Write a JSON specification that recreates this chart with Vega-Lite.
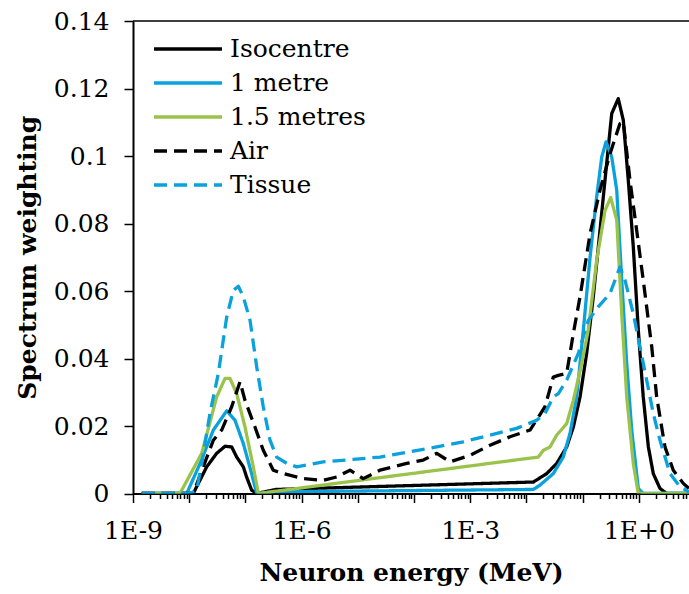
{
  "$schema": "https://vega.github.io/schema/vega-lite/v6.json",
  "width": 556,
  "height": 472.5,
  "autosize": {"type": "none"},
  "padding": {"left": 133, "top": 21, "right": 0, "bottom": 100.5},
  "background": "white",
  "config": {
    "view": {"stroke": null},
    "font": "DejaVu Serif",
    "axis": {"labelFont": "DejaVu Serif", "titleFont": "DejaVu Serif", "labelFontSize": 25, "titleFontSize": 25, "titleFontWeight": "bold", "labelColor": "black", "titleColor": "black", "domainColor": "black", "tickColor": "black", "grid": false},
    "axisY": {"domainWidth": 2, "tickWidth": 1.5, "tickSize": 9, "labelPadding": 15, "titlePadding": 13},
    "axisX": {"domainWidth": 2, "tickWidth": 1.5, "labelPadding": 16, "titlePadding": 17, "labelFlush": false, "labelOverlap": false, "labelBound": false},
    "legend": {"labelFont": "DejaVu Serif", "labelFontSize": 25, "labelColor": "black"}
  },
  "layer": [
    {
      "data": {"values": [{}]},
      "mark": {"type": "rule", "color": "black", "strokeWidth": 1.5},
      "encoding": {"y": {"datum": 0.14, "type": "quantitative", "title": "Spectrum weighting"}}
    },
    {
      "data": {"values": [
        {"s": "Isocentre", "E": 1.43e-9, "w": 0},
        {"s": "Isocentre", "E": 1.18e-8, "w": 0},
        {"s": "Isocentre", "E": 2.05e-8, "w": 0.0079},
        {"s": "Isocentre", "E": 3.08e-8, "w": 0.0119},
        {"s": "Isocentre", "E": 4.34e-8, "w": 0.014},
        {"s": "Isocentre", "E": 5.7e-8, "w": 0.0138},
        {"s": "Isocentre", "E": 7.0e-8, "w": 0.0108},
        {"s": "Isocentre", "E": 9.18e-8, "w": 0.0079},
        {"s": "Isocentre", "E": 1.05e-7, "w": 0.0049},
        {"s": "Isocentre", "E": 1.29e-7, "w": 0.001},
        {"s": "Isocentre", "E": 1.59e-7, "w": 0},
        {"s": "Isocentre", "E": 3.5e-7, "w": 0.0012},
        {"s": "Isocentre", "E": 1.33e-2, "w": 0.0034},
        {"s": "Isocentre", "E": 2.3e-2, "w": 0.0059},
        {"s": "Isocentre", "E": 3.46e-2, "w": 0.0089},
        {"s": "Isocentre", "E": 5.21e-2, "w": 0.0138},
        {"s": "Isocentre", "E": 6.84e-2, "w": 0.0197},
        {"s": "Isocentre", "E": 9.0e-2, "w": 0.0286},
        {"s": "Isocentre", "E": 0.118, "w": 0.0415},
        {"s": "Isocentre", "E": 0.155, "w": 0.0583},
        {"s": "Isocentre", "E": 0.204, "w": 0.078},
        {"s": "Isocentre", "E": 0.268, "w": 0.0978},
        {"s": "Isocentre", "E": 0.33, "w": 0.1126},
        {"s": "Isocentre", "E": 0.431, "w": 0.117},
        {"s": "Isocentre", "E": 0.53, "w": 0.1106},
        {"s": "Isocentre", "E": 0.65, "w": 0.0928},
        {"s": "Isocentre", "E": 0.798, "w": 0.0731},
        {"s": "Isocentre", "E": 0.98, "w": 0.0484},
        {"s": "Isocentre", "E": 1.2, "w": 0.0286},
        {"s": "Isocentre", "E": 1.48, "w": 0.0138},
        {"s": "Isocentre", "E": 1.81, "w": 0.0059},
        {"s": "Isocentre", "E": 2.38, "w": 0.0015},
        {"s": "Isocentre", "E": 3.13, "w": 0},
        {"s": "Isocentre", "E": 7.8, "w": 0},

        {"s": "1 metre", "E": 1.43e-9, "w": 0},
        {"s": "1 metre", "E": 9.04e-9, "w": 0},
        {"s": "1 metre", "E": 1.56e-8, "w": 0.0089},
        {"s": "1 metre", "E": 2.69e-8, "w": 0.0188},
        {"s": "1 metre", "E": 4.65e-8, "w": 0.0245},
        {"s": "1 metre", "E": 6.53e-8, "w": 0.0217},
        {"s": "1 metre", "E": 9.18e-8, "w": 0.0148},
        {"s": "1 metre", "E": 1.29e-7, "w": 0.0059},
        {"s": "1 metre", "E": 1.59e-7, "w": 0},
        {"s": "1 metre", "E": 3.5e-7, "w": 0.0005},
        {"s": "1 metre", "E": 1.33e-2, "w": 0.0012},
        {"s": "1 metre", "E": 1.75e-2, "w": 0.0025},
        {"s": "1 metre", "E": 3.01e-2, "w": 0.0059},
        {"s": "1 metre", "E": 4.53e-2, "w": 0.0108},
        {"s": "1 metre", "E": 5.97e-2, "w": 0.0178},
        {"s": "1 metre", "E": 7.85e-2, "w": 0.0286},
        {"s": "1 metre", "E": 0.103, "w": 0.0484},
        {"s": "1 metre", "E": 0.136, "w": 0.0701},
        {"s": "1 metre", "E": 0.178, "w": 0.0879},
        {"s": "1 metre", "E": 0.219, "w": 0.0997},
        {"s": "1 metre", "E": 0.261, "w": 0.1042},
        {"s": "1 metre", "E": 0.33, "w": 0.0997},
        {"s": "1 metre", "E": 0.405, "w": 0.0899},
        {"s": "1 metre", "E": 0.497, "w": 0.0632},
        {"s": "1 metre", "E": 0.61, "w": 0.0385},
        {"s": "1 metre", "E": 0.748, "w": 0.0188},
        {"s": "1 metre", "E": 0.98, "w": 0.0015},
        {"s": "1 metre", "E": 1.2, "w": 0},
        {"s": "1 metre", "E": 7.8, "w": 0},

        {"s": "1.5 metres", "E": 1.43e-9, "w": 0},
        {"s": "1.5 metres", "E": 6.85e-9, "w": 0},
        {"s": "1.5 metres", "E": 1.67e-8, "w": 0.0119},
        {"s": "1.5 metres", "E": 3.08e-8, "w": 0.0286},
        {"s": "1.5 metres", "E": 4.34e-8, "w": 0.0341},
        {"s": "1.5 metres", "E": 5.32e-8, "w": 0.0341},
        {"s": "1.5 metres", "E": 7.0e-8, "w": 0.0296},
        {"s": "1.5 metres", "E": 9.84e-8, "w": 0.0197},
        {"s": "1.5 metres", "E": 1.38e-7, "w": 0.0079},
        {"s": "1.5 metres", "E": 1.70e-7, "w": 0},
        {"s": "1.5 metres", "E": 1.63e-2, "w": 0.0108},
        {"s": "1.5 metres", "E": 2.0e-2, "w": 0.0128},
        {"s": "1.5 metres", "E": 2.63e-2, "w": 0.0138},
        {"s": "1.5 metres", "E": 3.46e-2, "w": 0.0173},
        {"s": "1.5 metres", "E": 5.21e-2, "w": 0.0207},
        {"s": "1.5 metres", "E": 6.84e-2, "w": 0.0276},
        {"s": "1.5 metres", "E": 9.64e-2, "w": 0.0385},
        {"s": "1.5 metres", "E": 0.126, "w": 0.0484},
        {"s": "1.5 metres", "E": 0.178, "w": 0.0691},
        {"s": "1.5 metres", "E": 0.251, "w": 0.0839},
        {"s": "1.5 metres", "E": 0.316, "w": 0.0877},
        {"s": "1.5 metres", "E": 0.405, "w": 0.081},
        {"s": "1.5 metres", "E": 0.497, "w": 0.0533},
        {"s": "1.5 metres", "E": 0.61, "w": 0.0286},
        {"s": "1.5 metres", "E": 0.798, "w": 0.0089},
        {"s": "1.5 metres", "E": 0.98, "w": 0},
        {"s": "1.5 metres", "E": 7.8, "w": 0},

        {"s": "Air", "E": 1.43e-9, "w": 0},
        {"s": "Air", "E": 1.18e-8, "w": 0},
        {"s": "Air", "E": 1.45e-8, "w": 0.004},
        {"s": "Air", "E": 2.69e-8, "w": 0.0158},
        {"s": "Air", "E": 3.78e-8, "w": 0.0188},
        {"s": "Air", "E": 5.7e-8, "w": 0.0257},
        {"s": "Air", "E": 8.02e-8, "w": 0.0331},
        {"s": "Air", "E": 9.84e-8, "w": 0.0276},
        {"s": "Air", "E": 1.48e-7, "w": 0.0197},
        {"s": "Air", "E": 2.08e-7, "w": 0.0128},
        {"s": "Air", "E": 3.13e-7, "w": 0.0069},
        {"s": "Air", "E": 4.72e-7, "w": 0.0059},
        {"s": "Air", "E": 1.07e-6, "w": 0.0044},
        {"s": "Air", "E": 2.43e-6, "w": 0.0039},
        {"s": "Air", "E": 4.22e-6, "w": 0.0049},
        {"s": "Air", "E": 7.26e-6, "w": 0.0069},
        {"s": "Air", "E": 1.25e-5, "w": 0.0044},
        {"s": "Air", "E": 2.48e-5, "w": 0.0069},
        {"s": "Air", "E": 7.41e-5, "w": 0.0089},
        {"s": "Air", "E": 1.46e-4, "w": 0.0099},
        {"s": "Air", "E": 2.54e-4, "w": 0.0119},
        {"s": "Air", "E": 4.38e-4, "w": 0.0094},
        {"s": "Air", "E": 9.9e-4, "w": 0.0113},
        {"s": "Air", "E": 2.25e-3, "w": 0.0143},
        {"s": "Air", "E": 5.1e-3, "w": 0.0168},
        {"s": "Air", "E": 1.16e-2, "w": 0.0188},
        {"s": "Air", "E": 2.14e-2, "w": 0.0257},
        {"s": "Air", "E": 3.01e-2, "w": 0.0345},
        {"s": "Air", "E": 3.7e-2, "w": 0.035},
        {"s": "Air", "E": 5.21e-2, "w": 0.0356},
        {"s": "Air", "E": 6.84e-2, "w": 0.0474},
        {"s": "Air", "E": 9.0e-2, "w": 0.0583},
        {"s": "Air", "E": 0.136, "w": 0.077},
        {"s": "Air", "E": 0.204, "w": 0.0899},
        {"s": "Air", "E": 0.308, "w": 0.1007},
        {"s": "Air", "E": 0.462, "w": 0.1096},
        {"s": "Air", "E": 0.53, "w": 0.1101},
        {"s": "Air", "E": 0.697, "w": 0.0928},
        {"s": "Air", "E": 0.916, "w": 0.078},
        {"s": "Air", "E": 1.2, "w": 0.0632},
        {"s": "Air", "E": 1.7, "w": 0.0434},
        {"s": "Air", "E": 2.08, "w": 0.0286},
        {"s": "Air", "E": 2.92, "w": 0.0138},
        {"s": "Air", "E": 4.11, "w": 0.0069},
        {"s": "Air", "E": 6.19, "w": 0.003},
        {"s": "Air", "E": 7.8, "w": 0.0015},

        {"s": "Tissue", "E": 1.43e-9, "w": 0},
        {"s": "Tissue", "E": 1.03e-8, "w": 0},
        {"s": "Tissue", "E": 1.36e-8, "w": 0.001},
        {"s": "Tissue", "E": 1.67e-8, "w": 0.0089},
        {"s": "Tissue", "E": 2.34e-8, "w": 0.0237},
        {"s": "Tissue", "E": 3.3e-8, "w": 0.0356},
        {"s": "Tissue", "E": 4.65e-8, "w": 0.0523},
        {"s": "Tissue", "E": 6.1e-8, "w": 0.0602},
        {"s": "Tissue", "E": 7.5e-8, "w": 0.0614},
        {"s": "Tissue", "E": 9.18e-8, "w": 0.0583},
        {"s": "Tissue", "E": 1.21e-7, "w": 0.0513},
        {"s": "Tissue", "E": 1.59e-7, "w": 0.0375},
        {"s": "Tissue", "E": 2.08e-7, "w": 0.0257},
        {"s": "Tissue", "E": 2.74e-7, "w": 0.0158},
        {"s": "Tissue", "E": 3.6e-7, "w": 0.0108},
        {"s": "Tissue", "E": 5.5e-7, "w": 0.0089},
        {"s": "Tissue", "E": 8.2e-7, "w": 0.0079},
        {"s": "Tissue", "E": 2.43e-6, "w": 0.0094},
        {"s": "Tissue", "E": 8.3e-6, "w": 0.0101},
        {"s": "Tissue", "E": 2.48e-5, "w": 0.0108},
        {"s": "Tissue", "E": 7.9e-5, "w": 0.0123},
        {"s": "Tissue", "E": 2.54e-4, "w": 0.0138},
        {"s": "Tissue", "E": 7.5e-4, "w": 0.0153},
        {"s": "Tissue", "E": 2.25e-3, "w": 0.0173},
        {"s": "Tissue", "E": 6.7e-3, "w": 0.0193},
        {"s": "Tissue", "E": 1.52e-2, "w": 0.0217},
        {"s": "Tissue", "E": 2.14e-2, "w": 0.0237},
        {"s": "Tissue", "E": 3.01e-2, "w": 0.0286},
        {"s": "Tissue", "E": 3.7e-2, "w": 0.0296},
        {"s": "Tissue", "E": 5.21e-2, "w": 0.0336},
        {"s": "Tissue", "E": 8.4e-2, "w": 0.0415},
        {"s": "Tissue", "E": 0.126, "w": 0.0513},
        {"s": "Tissue", "E": 0.19, "w": 0.0553},
        {"s": "Tissue", "E": 0.308, "w": 0.0593},
        {"s": "Tissue", "E": 0.462, "w": 0.0671},
        {"s": "Tissue", "E": 0.568, "w": 0.0632},
        {"s": "Tissue", "E": 0.798, "w": 0.0533},
        {"s": "Tissue", "E": 1.05, "w": 0.0434},
        {"s": "Tissue", "E": 1.38, "w": 0.0336},
        {"s": "Tissue", "E": 1.81, "w": 0.0237},
        {"s": "Tissue", "E": 2.38, "w": 0.0158},
        {"s": "Tissue", "E": 3.59, "w": 0.0059},
        {"s": "Tissue", "E": 5.41, "w": 0.002},
        {"s": "Tissue", "E": 7.8, "w": 0.0005}
      ]},
      "mark": {"type": "line", "strokeWidth": 3.3, "clip": true, "strokeJoin": "round"},
      "encoding": {
        "x": {
          "field": "E", "type": "quantitative", "title": "Neuron energy (MeV)",
          "scale": {"type": "log", "domain": [1e-9, 7.82], "nice": false},
          "axis": {
            "values": [1e-9, 2e-9, 3e-9, 4e-9, 5e-9, 6e-9, 7e-9, 8e-9, 9e-9,
                       1e-8, 2e-8, 3e-8, 4e-8, 5e-8, 6e-8, 7e-8, 8e-8, 9e-8,
                       1e-7, 2e-7, 3e-7, 4e-7, 5e-7, 6e-7, 7e-7, 8e-7, 9e-7,
                       1e-6, 2e-6, 3e-6, 4e-6, 5e-6, 6e-6, 7e-6, 8e-6, 9e-6,
                       1e-5, 2e-5, 3e-5, 4e-5, 5e-5, 6e-5, 7e-5, 8e-5, 9e-5,
                       1e-4, 2e-4, 3e-4, 4e-4, 5e-4, 6e-4, 7e-4, 8e-4, 9e-4,
                       1e-3, 2e-3, 3e-3, 4e-3, 5e-3, 6e-3, 7e-3, 8e-3, 9e-3,
                       1e-2, 2e-2, 3e-2, 4e-2, 5e-2, 6e-2, 7e-2, 8e-2, 9e-2,
                       1e-1, 2e-1, 3e-1, 4e-1, 5e-1, 6e-1, 7e-1, 8e-1, 9e-1,
                       1, 2, 3, 4, 5, 6, 7],
            "labelExpr": "(abs(log(datum.value)/LN10 - round(log(datum.value)/LN10)) < 0.001 && round(log(datum.value)/LN10) % 3 == 0) ? ('1E' + (round(log(datum.value)/LN10) >= 0 ? '+' : '') + round(log(datum.value)/LN10)) : ''",
            "tickSize": {"condition": {"test": "abs(log(datum.value)/LN10 - round(log(datum.value)/LN10)) < 0.001", "value": 9}, "value": 5}
          }
        },
        "y": {
          "field": "w", "type": "quantitative", "title": "Spectrum weighting",
          "scale": {"domain": [0, 0.14], "nice": false},
          "axis": {"values": [0, 0.02, 0.04, 0.06, 0.08, 0.1, 0.12, 0.14], "format": "~g"}
        },
        "color": {
          "field": "s", "type": "nominal", "title": null,
          "scale": {"domain": ["Isocentre", "1 metre", "1.5 metres", "Air", "Tissue"], "range": ["#000000", "#0AA1DD", "#9BC34B", "#000000", "#0AA1DD"]},
          "legend": {"orient": "none", "legendX": 19, "legendY": 13, "symbolType": "stroke", "symbolSize": 4624, "symbolStrokeWidth": 3.5, "clipHeight": 30, "rowPadding": 4, "labelOffset": 6, "padding": 0}
        },
        "strokeDash": {
          "field": "s", "type": "nominal", "title": null,
          "scale": {"domain": ["Isocentre", "1 metre", "1.5 metres", "Air", "Tissue"], "range": [[1, 0], [1, 0], [1, 0], [13, 7], [13, 7]]},
          "legend": {"orient": "none", "legendX": 19, "legendY": 13, "symbolType": "stroke", "symbolSize": 4624, "symbolStrokeWidth": 3.5, "clipHeight": 30, "rowPadding": 4, "labelOffset": 6, "padding": 0}
        }
      }
    }
  ]
}
